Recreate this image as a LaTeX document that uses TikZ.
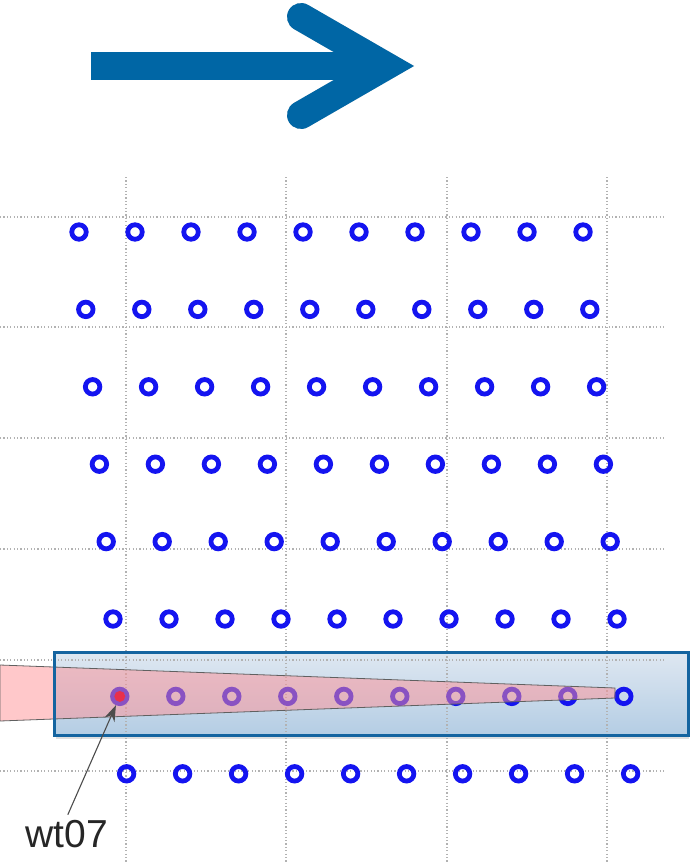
\documentclass[tikz,border=0pt]{standalone}
\usepackage{fontspec}
\setmainfont{Liberation Sans}
\usepackage{tikz}
\usetikzlibrary{arrows.meta,positioning,calc,shadows}

\definecolor{arrowblue}{RGB}{0,102,165}
\definecolor{ringblue}{RGB}{20,20,240}
\definecolor{bandedge}{RGB}{20,100,160}
\definecolor{bandtop}{RGB}{222,231,241}
\definecolor{bandbot}{RGB}{180,205,228}
\definecolor{wakepink}{RGB}{255,145,150}
\definecolor{wtred}{RGB}{232,48,76}

\begin{document}
\begin{tikzpicture}[x=1pt, y=-1pt, >={Stealth[length=16pt,width=11pt]}, semithick]
\tikzstyle{turbine}=[circle,draw=ringblue,line width=4.8pt,minimum size=14.5pt,inner sep=0pt]
\tikzstyle{gridline}=[gray!60,line width=1.2pt,dash pattern=on 1.2pt off 2.2pt]
\tikzstyle{bigarrow}=[arrowblue,line width=28pt]
\useasboundingbox (0,0) rectangle (698,864);

% wind direction
\coordinate (tail) at (91,66);
\coordinate (tip)  at (386,66);
\coordinate (armU) at (301,17);
\coordinate (armD) at (301,115);
\draw[bigarrow,black,opacity=.15,shift={(2,4)}] (tail) -- (tip);
\draw[bigarrow,black,opacity=.15,shift={(2,4)},line cap=round,miter limit=5] (armU) -- (tip) -- (armD);
\draw[bigarrow] (tail) -- (tip);
\draw[bigarrow,line cap=round,miter limit=5] (armU) -- (tip) -- (armD);

% selected row
\node[draw=none,minimum width=633pt,minimum height=82pt,inner sep=0pt,
      top color=bandtop,bottom color=bandbot,
      drop shadow={opacity=.25,shadow xshift=1pt,shadow yshift=-4pt}] (band) at (371.5,694) {};

% grid
\foreach \gx in {126,286,447,607}
  \draw[gridline] (\gx,177) -- (\gx,864);
\foreach \gy in {217,327,438,549,660,771}
  \draw[gridline] (0,\gy) -- (665,\gy);

% turbines
\foreach \r in {1,...,8}
  \foreach \c in {1,...,10}
    \node[turbine] (t-\r-\c) at ({79+6.8*(\r-1)+56*(\c-1)},{232+77.4*(\r-1)}) {};

% wake
\filldraw[draw=gray!75!black,line width=.8pt,fill=wakepink,fill opacity=.5]
  (0,665) -- (615,688) -- (615,698) -- (0,721) -- cycle;
\draw[bandedge,line width=2.5pt] (band.north west) rectangle (band.south east);
\fill[wtred] (t-7-1) circle (5.5pt);

\node[font=\fontsize{39}{40}\selectfont,text=black!85] (wt) at (67,834) {wt07};
\draw[->,black!70,line width=1.1pt,shorten <=2pt] (wt.north) -- (t-7-1);
\end{tikzpicture}
\end{document}
